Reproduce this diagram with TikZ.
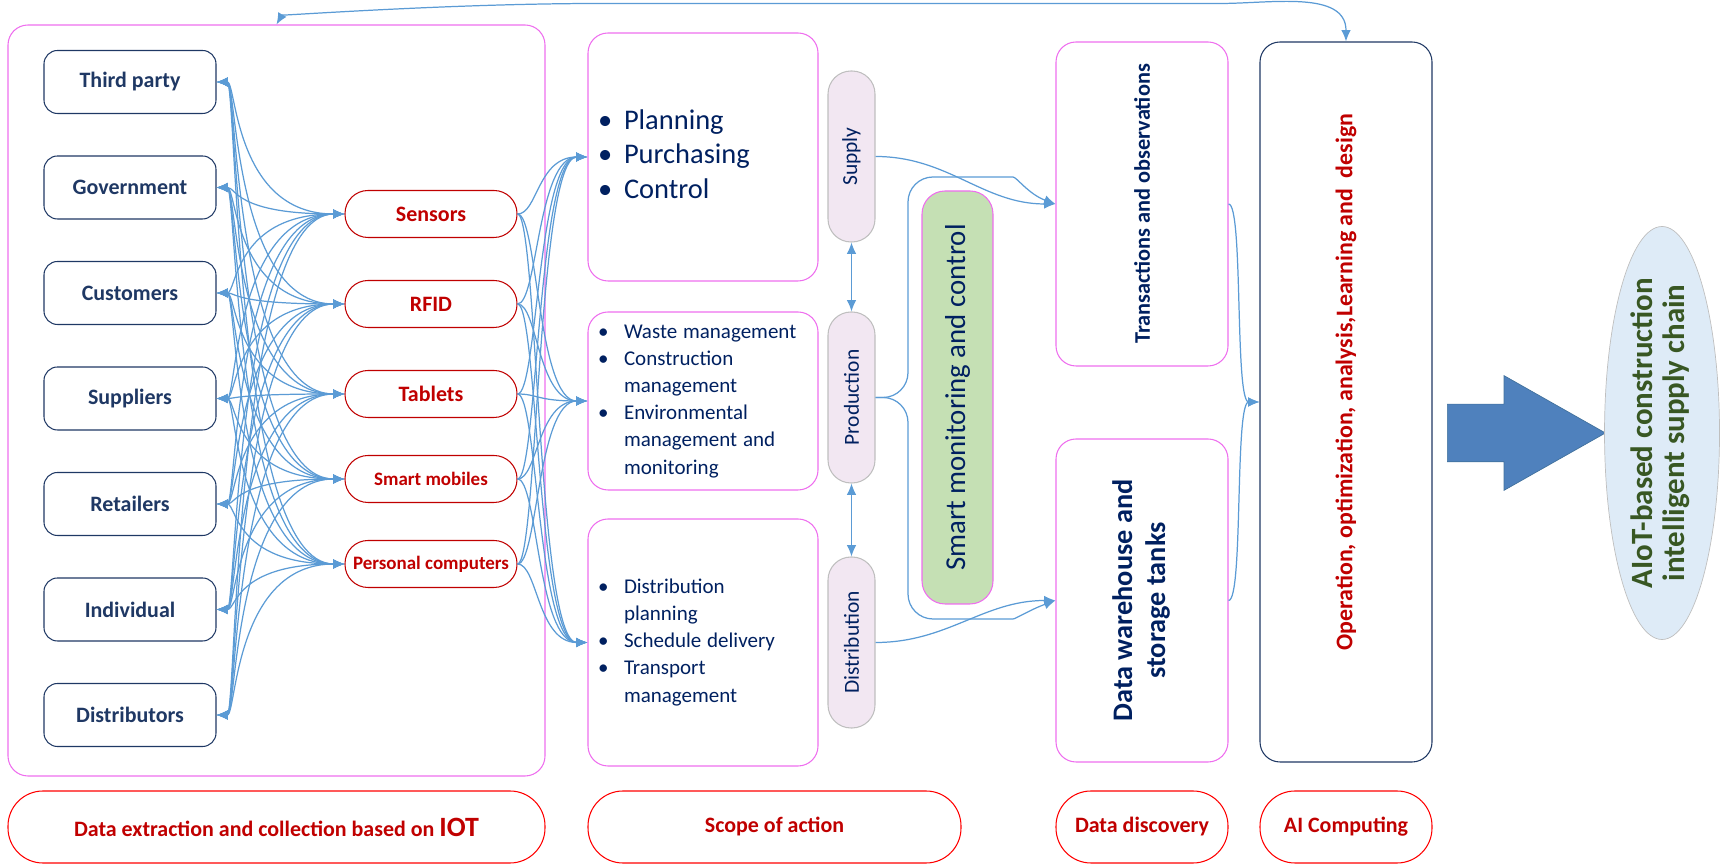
\documentclass[tikz,border=0pt]{standalone}
\usepackage{fontspec}
\setmainfont{Carlito}
\usepackage{graphicx}
\usepackage{tikz}
\usetikzlibrary{shapes,arrows,arrows.meta,positioning}
\usepackage{xcolor}

\definecolor{navy}{RGB}{31,56,100}
\definecolor{ink}{RGB}{0,32,96}
\definecolor{darkred}{RGB}{192,0,0}
\definecolor{pinkline}{RGB}{238,110,238}
\definecolor{linkblue}{RGB}{91,155,213}
\definecolor{pillfill}{RGB}{242,231,242}
\definecolor{pillline}{RGB}{191,191,191}
\definecolor{monitorfill}{RGB}{197,224,180}
\definecolor{resultfill}{RGB}{222,235,247}
\definecolor{resulttext}{RGB}{56,87,35}
\definecolor{arrowfill}{RGB}{79,129,189}
\definecolor{arrowline}{RGB}{65,113,156}

\begin{document}
\begin{tikzpicture}[>={Latex[length=6.5pt,width=5.5pt]}]
      \tikzstyle{panel} = [rectangle, rounded corners=0.4cm, draw=pinkline, line width=0.6pt, inner sep=0]
      \tikzstyle{party} = [rectangle, rounded corners=0.27cm, draw=navy, line width=0.6pt, minimum width=3.44cm, minimum height=1.26cm, inner sep=0, text=navy, font=\fontsize{12.5}{15}\selectfont\bfseries]
      \tikzstyle{device} = [rectangle, rounded corners=0.46cm, draw=darkred, line width=0.6pt, minimum width=3.44cm, minimum height=0.94cm, inner sep=0, text=darkred, font=\fontsize{12.5}{15}\selectfont\bfseries]
      \tikzstyle{task} = [panel, minimum width=4.6cm, inner xsep=0.2cm, text width=4.2cm, align=left, text=ink]
      \tikzstyle{pill} = [rectangle, rounded corners=0.46cm, draw=pillline, fill=pillfill, line width=0.6pt, minimum width=0.94cm, minimum height=3.42cm, inner sep=0, text=ink, font=\fontsize{12.2}{14}\selectfont]
      \tikzstyle{footer} = [rectangle, rounded corners=0.7cm, draw=red, line width=0.6pt, minimum height=1.44cm, inner sep=0, text=darkred, font=\fontsize{12.5}{15}\selectfont\bfseries]
      \tikzstyle{link} = [draw=linkblue, line width=0.7pt]

      \useasboundingbox (0,0) rectangle (34.42,17.30);

      % data sources and devices
      \node[panel, minimum width=10.74cm, minimum height=15.02cm] (iot) at (5.53,9.29) {};
      \node[party] (thirdparty) at (2.60,15.66) {Third party};
      \node[party] (government) at (2.60,13.55) {Government};
      \node[party] (customers) at (2.60,11.44) {Customers};
      \node[party] (suppliers) at (2.60,9.33) {Suppliers};
      \node[party] (retailers) at (2.60,7.22) {Retailers};
      \node[party] (individual) at (2.60,5.11) {Individual};
      \node[party] (distributors) at (2.60,3.00) {Distributors};

      \node[device] (sensors) at (8.62,13.02) {Sensors};
      \node[device] (rfid) at (8.62,11.22) {RFID};
      \node[device] (tablets) at (8.62,9.42) {Tablets};
      \node[device, font=\fontsize{10.8}{13}\selectfont\bfseries] (mobiles) at (8.62,7.72) {Smart mobiles};
      \node[device, font=\fontsize{10.8}{13}\selectfont\bfseries] (computers) at (8.62,6.02) {Personal computers};

      % scope of action
      \node[task, minimum height=4.96cm] (plan) at (14.06,14.16) {\fontsize{16.2}{19.9}\selectfont\noindent
        \begin{tabular}{@{}p{0.52cm}@{}l@{}}
          \textbullet & Planning\\
          \textbullet & Purchasing\\
          \textbullet & Control
        \end{tabular}};
      \node[task, minimum height=3.56cm] (produce) at (14.06,9.28) {\fontsize{11.95}{15.4}\selectfont\noindent
        \begin{tabular}{@{}p{0.52cm}@{}l@{}}
          \textbullet & Waste management\\
          \textbullet & Construction\\
                      & management\\
          \textbullet & Environmental\\
                      & management and\\
                      & monitoring
        \end{tabular}};
      \node[task, minimum height=4.94cm] (deliver) at (14.06,4.45) {\fontsize{11.95}{15.4}\selectfont\noindent
        \begin{tabular}{@{}p{0.52cm}@{}l@{}}
          \textbullet & Distribution\\
                      & planning\\
          \textbullet & Schedule delivery\\
          \textbullet & Transport\\
                      & management
        \end{tabular}};

      \node[pill] (supply) at (17.03,14.17) {\rotatebox{90}{Supply}};
      \node[pill] (production) at (17.03,9.35) {\rotatebox{90}{Production}};
      \node[pill] (distribution) at (17.03,4.45) {\rotatebox{90}{Distribution}};

      \node[panel, rounded corners=0.46cm, fill=monitorfill, minimum width=1.42cm, minimum height=8.26cm, text=ink, font=\fontsize{16.4}{19}\selectfont] (monitor) at (19.15,9.35) {\rotatebox{90}{Smart monitoring and control}};

      % data discovery and AI
      \node[panel, minimum width=3.44cm, minimum height=6.48cm, text=ink, font=\fontsize{12.7}{15}\selectfont\bfseries] (transactions) at (22.84,13.22) {\rotatebox{90}{Transactions and observations}};
      \node[panel, minimum width=3.44cm, minimum height=6.46cm, text=ink, font=\fontsize{16.1}{18.8}\selectfont\bfseries] (warehouse) at (22.84,5.29) {\rotatebox{90}{\begin{tabular}{@{}c@{}}Data warehouse and\\storage tanks\end{tabular}}};
      \node[rectangle, rounded corners=0.4cm, draw=navy, line width=0.6pt, minimum width=3.44cm, minimum height=14.40cm, inner sep=0, text=darkred, font=\fontsize{13.6}{16}\selectfont\bfseries] (ai) at (26.92,9.26) {\rotatebox{90}{\hspace*{0.8cm}Operation, optimization, analysis,Learning and\ \ design}};

      \node[single arrow, draw=arrowline, fill=arrowfill, minimum height=3.16cm, single arrow head extend=0.57cm, single arrow tip angle=59, inner xsep=0, inner ysep=0.57cm, anchor=tail] (bigarrow) at (28.94,8.64) {};
      \node[ellipse, draw=pillline, fill=resultfill, minimum width=2.30cm, minimum height=8.26cm, inner sep=0, text=resulttext, font=\fontsize{17.6}{18.5}\selectfont\bfseries] (result) at (33.24,8.64) {\rotatebox{90}{\makebox[0pt]{\begin{tabular}{@{}c@{}}AIoT-based construction\\intelligent supply chain\end{tabular}}}};

      % bottom captions
      \node[footer, minimum width=10.74cm] (iotlabel) at (5.53,0.76) {Data extraction and collection based on {\fontsize{15.9}{18}\selectfont IOT}};
      \node[footer, minimum width=7.46cm] (scopelabel) at (15.49,0.76) {Scope of action};
      \node[footer, minimum width=3.44cm] (discoverylabel) at (22.84,0.76) {Data discovery};
      \node[footer, minimum width=3.44cm] (computinglabel) at (26.92,0.76) {AI Computing};

      % connectors
      \foreach \s in {thirdparty,government,customers,suppliers,retailers,individual,distributors}
        \foreach \d in {sensors,rfid,tablets,mobiles,computers}
          \draw[link, <->] (\s.east) to[out=0, in=180, out distance=0.4cm, in distance=2.2cm] (\d.west);
      \foreach \d in {sensors,rfid,tablets,mobiles,computers}
        \foreach \a in {plan,produce,deliver}
          \draw[link, ->] (\d.east) to[out=0, in=180, out distance=0.4cm, in distance=1cm] (\a.west);

      \draw[link, <->] (supply) -- (production);
      \draw[link, <->] (production) -- (distribution);
      \draw[link, ->] (supply.east) to[out=0, in=180] (transactions.west);
      \coordinate (rise) at (18.16,13.76);
      \coordinate (drop) at (18.16,4.92);
      \draw[link, ->, rounded corners=0.5cm] (production.east) -| (rise) -- ++(1.6,0) to[out=0, in=160] (transactions.west);
      \draw[link, ->, rounded corners=0.5cm] (production.east) -| (drop) -- ++(1.6,0) to[out=0, in=200] (warehouse.west);
      \draw[link, ->] (distribution.east) to[out=0, in=180] (warehouse.west);

      \draw[link, ->] (transactions.east) to[out=0, in=180, out distance=0.3cm, in distance=0.5cm] (ai.west);
      \draw[link, ->] (warehouse.east) to[out=0, in=180, out distance=0.3cm, in distance=0.5cm] (ai.west);

      \coordinate (topl) at (12,17.23);
      \coordinate (topr) at (24.4,17.23);
      \draw[link, <->] (iot.north) to[out=60, in=180, out distance=0.2cm, in distance=3cm] (topl) -- (topr) to[out=0, in=90] (ai.north);
    \end{tikzpicture}
\end{document}
